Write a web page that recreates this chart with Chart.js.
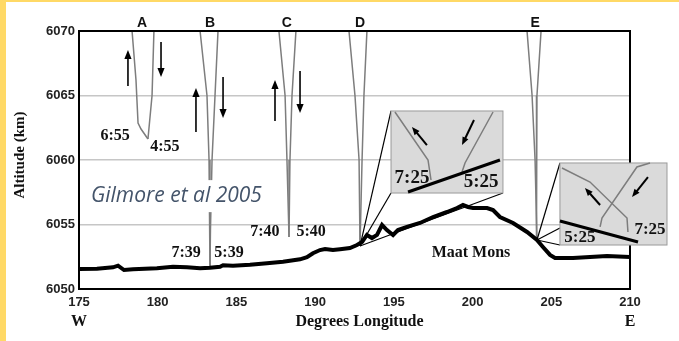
<!DOCTYPE html>
<html>
<head>
<meta charset="utf-8">
<script src="https://cdn.jsdelivr.net/npm/chart.js@4"></script>
<style>
  html, body { margin: 0; padding: 0; background: #fff; }
  #wrap { position: relative; width: 679px; height: 341px; }
  .band { position: absolute; background: #ffd966; }
</style>
</head>
<body>
<div id="wrap">
  <canvas id="maatChart" width="679" height="341"></canvas>
  <div class="band" style="left:0;top:0;width:679px;height:2px"></div>
  <div class="band" style="left:0;top:0;width:6px;height:341px"></div>
</div>
<script>
// terrain profile under the track (longitude, altitude km)
const terrainLon = [175.0, 176.14, 177.16, 177.48, 177.86, 178.43, 179.95, 180.97, 181.86, 182.69,
  183.32, 183.96, 184.15, 184.78, 185.86, 186.94, 187.96, 189.04, 189.48, 189.86, 190.31, 190.63,
  191.13, 191.58, 192.21, 192.66, 192.98, 193.29, 193.61, 193.93, 194.25, 194.56, 194.95, 195.26,
  195.83, 196.66, 197.49, 198.38, 199.01, 199.39, 199.71, 200.03, 200.92, 201.30, 201.74, 202.57,
  203.46, 204.09, 204.47, 204.92, 205.24, 206.38, 207.46, 208.54, 210.0];
const terrainAlt = [6051.55, 6051.57, 6051.68, 6051.81, 6051.47, 6051.53, 6051.60, 6051.73, 6051.68, 6051.60,
  6051.65, 6051.73, 6051.84, 6051.81, 6051.88, 6051.99, 6052.12, 6052.30, 6052.46, 6052.77, 6053.02, 6053.10,
  6053.02, 6053.08, 6053.18, 6053.41, 6053.64, 6054.19, 6053.95, 6054.19, 6054.96, 6054.57, 6054.19, 6054.57,
  6054.81, 6055.12, 6055.58, 6055.97, 6056.28, 6056.51, 6056.36, 6056.28, 6056.28, 6056.12, 6055.58, 6055.12,
  6054.42, 6053.80, 6053.26, 6052.64, 6052.40, 6052.40, 6052.48, 6052.56, 6052.48];

// flight passes A-E, each a descending and an ascending leg [lon, alt]
const passA_in = [[178.37, 6070], [178.62, 6066.2], [178.68, 6064.65], [178.75, 6062.87], [178.94, 6062.40], [179.38, 6061.63]];
const passA_out = [[179.76, 6070], [179.64, 6065], [179.38, 6061.63]];
const passB_in = [[182.69, 6070], [183.13, 6065], [183.26, 6060], [183.32, 6051.63]];
const passB_out = [[183.83, 6070], [183.64, 6065], [183.45, 6060], [183.35, 6054.57], [183.32, 6051.63]];
const passC_in = [[187.70, 6070], [188.09, 6065], [188.21, 6060], [188.34, 6054.03]];
const passC_out = [[188.78, 6070], [188.53, 6065], [188.40, 6060], [188.34, 6054.03]];
const passD_in = [[192.15, 6070], [192.53, 6065], [192.79, 6060], [192.85, 6053.33]];
const passD_out = [[193.29, 6070], [193.10, 6065], [192.98, 6060], [192.85, 6053.33]];
const passE_in = [[203.46, 6070], [203.78, 6065], [203.97, 6060], [204.09, 6053.8]];
const passE_out = [[204.35, 6070], [204.09, 6065], [204.03, 6060], [204.09, 6053.8]];

const passLetters = ["A", "B", "C", "D", "E"];
const letterLon = [179.0, 183.32, 188.2, 192.85, 203.97];

// direction arrows [lonFrom, altFrom, lonTo, altTo]
const passArrows = [
  [178.11, 6065.74, 178.11, 6068.53], [180.21, 6069.15, 180.21, 6066.43],
  [182.43, 6062.17, 182.43, 6065.58], [184.15, 6066.43, 184.15, 6063.26],
  [187.45, 6063.02, 187.45, 6066.2], [189.04, 6066.9, 189.04, 6063.64]
];

const timeText = ["6:55", "4:55", "7:39", "5:39", "7:40", "5:40"];
const timeLon = [177.29, 180.46, 181.8, 184.53, 186.81, 189.74];
const timeAlt = [6061.86, 6061.0, 6052.79, 6052.79, 6054.42, 6054.42];

// zoom insets around D and E
const dPoint = [192.85, 6053.33];
const insetD = [194.82, 6063.8, 201.93, 6057.44];
const insetD_links = [[194.82, 6063.8], [194.82, 6057.44], [201.93, 6057.44]];
const insetD_in = [[195.07, 6063.72], [197.17, 6060.0], [197.36, 6058.45]];
const insetD_out = [[201.3, 6063.72], [199.52, 6059.77], [199.33, 6059.07]];
const insetD_ground = [[195.9, 6057.52], [201.74, 6060.0]];
const insetD_arrows = [[197.1, 6061.16, 196.15, 6062.56], [200.09, 6063.1, 199.33, 6061.16]];
const insetD_labels = [["7:25", 196.15, 6058.6], ["5:25", 200.54, 6058.3]];

const ePoint = [204.09, 6053.8];
const insetE = [205.55, 6059.77, 212.35, 6053.41];
const insetE_links = [[205.55, 6059.77], [205.55, 6054.73], [205.55, 6053.41]];
const insetE_in = [[205.68, 6059.38], [207.46, 6058.29], [209.81, 6055.5], [209.87, 6054.42]];
const insetE_out = [[211.27, 6059.77], [210.44, 6059.46], [208.22, 6055.5], [208.1, 6054.81]];
const insetE_ground = [[205.55, 6055.27], [210.51, 6053.64]];
const insetE_arrows = [[208.1, 6056.51, 207.14, 6057.83], [211.14, 6058.68, 210.13, 6057.13]];
const insetE_labels = [["5:25", 206.82, 6053.95], ["7:25", 211.27, 6054.57]];

const mountLabel = ["Maat Mons", 199.9, 6052.79];
const creditLabel = ["Gilmore et al 2005", 175.76, 6057.2];

const SERIF = "'Liberation Serif', 'Times New Roman', serif";
const SANS = "'Liberation Sans', Arial, sans-serif";

function toXY(pairs) {
  return pairs.map(p => ({ x: p[0], y: p[1] }));
}

function passSet(pairs) {
  return {
    data: toXY(pairs),
    showLine: true,
    borderColor: "#7d7d7d",
    borderWidth: 1.5,
    pointRadius: 0,
    order: 2,
  };
}

function drawPath(ctx, c, pairs, color, width) {
  ctx.beginPath();
  pairs.forEach((p, i) => {
    const x = c.scales.x.getPixelForValue(p[0]);
    const y = c.scales.y.getPixelForValue(p[1]);
    if (i === 0) ctx.moveTo(x, y); else ctx.lineTo(x, y);
  });
  ctx.strokeStyle = color;
  ctx.lineWidth = width;
  ctx.stroke();
}

function drawArrow(ctx, c, a, width, head) {
  const x0 = c.scales.x.getPixelForValue(a[0]);
  const y0 = c.scales.y.getPixelForValue(a[1]);
  const x1 = c.scales.x.getPixelForValue(a[2]);
  const y1 = c.scales.y.getPixelForValue(a[3]);
  const ang = Math.atan2(y1 - y0, x1 - x0);
  ctx.strokeStyle = "#000";
  ctx.fillStyle = "#000";
  ctx.lineWidth = width;
  ctx.beginPath();
  ctx.moveTo(x0, y0);
  ctx.lineTo(x1 - Math.cos(ang) * head * 0.8, y1 - Math.sin(ang) * head * 0.8);
  ctx.stroke();
  ctx.beginPath();
  ctx.moveTo(x1, y1);
  ctx.lineTo(x1 - head * Math.cos(ang) + head * 0.4 * Math.sin(ang), y1 - head * Math.sin(ang) - head * 0.4 * Math.cos(ang));
  ctx.lineTo(x1 - head * Math.cos(ang) - head * 0.4 * Math.sin(ang), y1 - head * Math.sin(ang) + head * 0.4 * Math.cos(ang));
  ctx.closePath();
  ctx.fill();
}

function drawText(ctx, c, t, lon, alt, font) {
  ctx.font = font;
  ctx.fillStyle = "#111";
  ctx.textAlign = "center";
  ctx.textBaseline = "middle";
  ctx.fillText(t, c.scales.x.getPixelForValue(lon), c.scales.y.getPixelForValue(alt));
}

function drawInset(ctx, c, point, box, links, lineIn, lineOut, ground, arrows, labels, labelFont) {
  const xs = c.scales.x, ys = c.scales.y;
  links.forEach(l => drawPath(ctx, c, [point, l], "#000", 1.2));
  const bx = xs.getPixelForValue(box[0]), by = ys.getPixelForValue(box[1]);
  const bw = xs.getPixelForValue(box[2]) - bx, bh = ys.getPixelForValue(box[3]) - by;
  ctx.fillStyle = "#dadada";
  ctx.fillRect(bx, by, bw, bh);
  ctx.strokeStyle = "#9a9a9a";
  ctx.lineWidth = 1;
  ctx.strokeRect(bx, by, bw, bh);
  drawPath(ctx, c, lineIn, "#7d7d7d", 1.5);
  drawPath(ctx, c, lineOut, "#7d7d7d", 1.5);
  drawPath(ctx, c, ground, "#000", 3);
  arrows.forEach(a => drawArrow(ctx, c, a, 2, 8));
  labels.forEach(l => drawText(ctx, c, l[0], l[1], l[2], labelFont));
}

const overlay = {
  id: "overlay",
  afterDatasetsDraw(c) {
    const ctx = c.ctx;
    const xs = c.scales.x, ys = c.scales.y;
    const area = c.chartArea;
    ctx.save();

    passArrows.forEach(a => drawArrow(ctx, c, a, 1.6, 9));
    timeText.forEach((t, i) => drawText(ctx, c, t, timeLon[i], timeAlt[i], "bold 16px " + SERIF));
    drawText(ctx, c, mountLabel[0], mountLabel[1], mountLabel[2], "bold 16px " + SERIF);

    // frame
    ctx.strokeStyle = "#000";
    ctx.lineWidth = 2;
    ctx.strokeRect(area.left, area.top, area.right - area.left, area.bottom - area.top);

    drawInset(ctx, c, dPoint, insetD, insetD_links, insetD_in, insetD_out, insetD_ground,
      insetD_arrows, insetD_labels, "bold 19px " + SERIF);
    drawInset(ctx, c, ePoint, insetE, insetE_links, insetE_in, insetE_out, insetE_ground,
      insetE_arrows, insetE_labels, "bold 17px " + SERIF);

    // pass letters above the frame
    ctx.font = "bold 14px " + SANS;
    ctx.fillStyle = "#111";
    ctx.textAlign = "center";
    ctx.textBaseline = "middle";
    passLetters.forEach((l, i) => ctx.fillText(l, xs.getPixelForValue(letterLon[i]), area.top - 8));

    // axis titles
    ctx.font = "bold 16px " + SERIF;
    ctx.fillText("Degrees Longitude", (area.left + area.right) / 2 + 5, area.bottom + 33);
    ctx.fillText("W", xs.getPixelForValue(175), area.bottom + 33);
    ctx.fillText("E", xs.getPixelForValue(210), area.bottom + 33);
    ctx.font = "bold 15px " + SERIF;
    ctx.save();
    ctx.translate(20, (area.top + area.bottom) / 2 - 5);
    ctx.rotate(-Math.PI / 2);
    ctx.fillText("Altitude (km)", 0, 0);
    ctx.restore();

    // credit note with white backing
    const cx = xs.getPixelForValue(creditLabel[1]);
    const cy = ys.getPixelForValue(creditLabel[2]);
    ctx.font = "italic 21px 'Open Sans', sans-serif";
    const w = ctx.measureText(creditLabel[0]).width;
    ctx.fillStyle = "#fff";
    ctx.fillRect(cx - 3, cy - 16, w + 6, 32);
    ctx.fillStyle = "#44546a";
    ctx.textAlign = "left";
    ctx.fillText(creditLabel[0], cx, cy);
    ctx.restore();
  },
};

const tickFont = { family: SANS, size: 13, weight: "bold" };

new Chart(document.getElementById("maatChart"), {
  type: "scatter",
  data: {
    datasets: [
      {
        data: terrainLon.map((lon, i) => ({ x: lon, y: terrainAlt[i] })),
        showLine: true,
        borderColor: "#000",
        borderWidth: 4,
        pointRadius: 0,
        order: 1,
      },
      passSet(passA_in), passSet(passA_out),
      passSet(passB_in), passSet(passB_out),
      passSet(passC_in), passSet(passC_out),
      passSet(passD_in), passSet(passD_out),
      passSet(passE_in), passSet(passE_out),
    ],
  },
  options: {
    responsive: false,
    animation: false,
    layout: { padding: { top: 31, right: 49, left: 0, bottom: 0 } },
    plugins: { legend: { display: false }, tooltip: { enabled: false } },
    scales: {
      x: {
        type: "linear",
        min: 175,
        max: 210,
        afterFit: s => { s.height = 52; },
        ticks: { stepSize: 5, padding: 6, color: "#222", font: tickFont, callback: v => String(v) },
        grid: { display: false, drawTicks: false },
        border: { display: true, color: "#000", width: 2 },
      },
      y: {
        type: "linear",
        min: 6050,
        max: 6070,
        afterFit: s => { s.width = 79; },
        ticks: { stepSize: 5, padding: 4, color: "#222", font: tickFont, callback: v => String(v) },
        grid: {
          drawTicks: false,
          lineWidth: 1.5,
          color: ctx => (ctx.tick && (ctx.tick.value === 6050 || ctx.tick.value === 6070)) ? "rgba(0,0,0,0)" : "#c6c6c6",
        },
        border: { display: true, color: "#000", width: 2 },
      },
    },
  },
  plugins: [overlay],
});
</script>
</body>
</html>
